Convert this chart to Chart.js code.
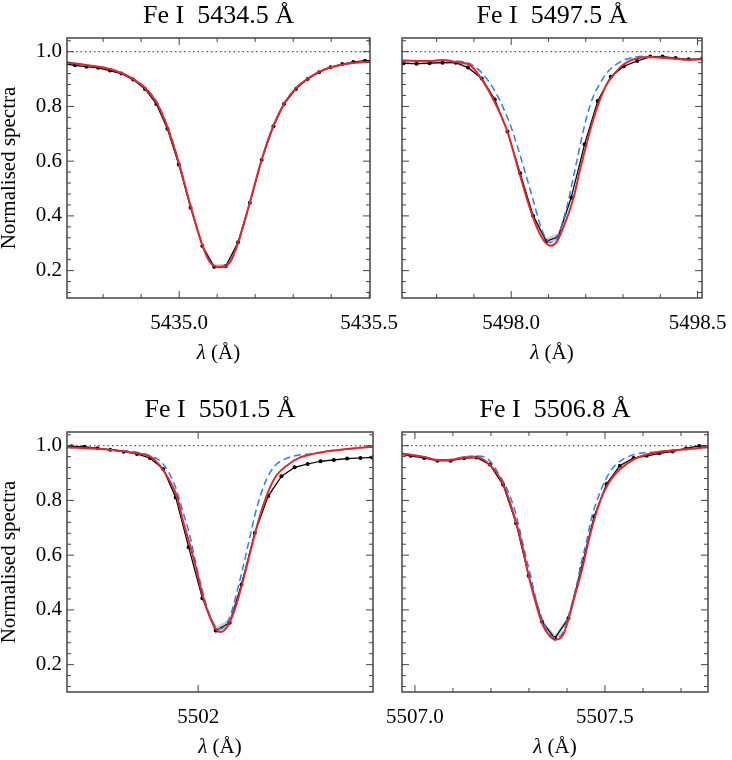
<!DOCTYPE html>
<html>
<head>
<meta charset="utf-8">
<title>Fe I line profiles</title>
<script src="https://cdn.jsdelivr.net/npm/chart.js"></script>
<style>
    body { margin: 0; background: #fff; overflow: hidden; }
    #page { position: relative; width: 732px; height: 760px; overflow: hidden; background: #fff; }
    #page canvas { position: absolute; }
</style>
</head>
<body>
<div id="page">
    <canvas id="p1" width="420" height="380" style="left:0px;top:0px"></canvas>
    <canvas id="p2" width="360" height="380" style="left:380px;top:0px"></canvas>
    <canvas id="p3" width="420" height="380" style="left:0px;top:394px"></canvas>
    <canvas id="p4" width="400" height="380" style="left:340px;top:394px"></canvas>
</div>
<script>
// ===== shared axis data =====
const yTicks = [0.2, 0.4, 0.6, 0.8, 1.0];
const yRange = [0.1, 1.05];

// ===== Fe I 5434.5 =====
const title1 = 'Fe I  5434.5 Å';
const xRange1 = [5434.705, 5435.502];
const xTicks1 = [5435.0, 5435.5];
const obsWave1 = [5434.695, 5434.726, 5434.756, 5434.787, 5434.818, 5434.848, 5434.879, 5434.910, 5434.940, 5434.969,
                  5434.999, 5435.030, 5435.061, 5435.092, 5435.123, 5435.155, 5435.186, 5435.217, 5435.248, 5435.276,
                  5435.307, 5435.338, 5435.368, 5435.398, 5435.429, 5435.458, 5435.489, 5435.520];
const obsFlux1 = [0.957, 0.950, 0.945, 0.941, 0.931, 0.920, 0.898, 0.864, 0.809, 0.718,
                  0.588, 0.430, 0.290, 0.214, 0.217, 0.304, 0.448, 0.604, 0.728, 0.809,
                  0.864, 0.900, 0.925, 0.943, 0.955, 0.962, 0.967, 0.968];
const obsErr1 = [0.003, 0.003, 0.003, 0.003, 0.003, 0.003, 0.003, 0.003, 0.003, 0.004,
                 0.005, 0.006, 0.007, 0.008, 0.008, 0.007, 0.006, 0.005, 0.004, 0.003,
                 0.003, 0.003, 0.003, 0.003, 0.003, 0.003, 0.003, 0.003];
const modWave1 = [5434.704, 5434.756, 5434.818, 5434.848, 5434.879, 5434.910, 5434.940, 5434.969, 5434.999, 5435.030,
                  5435.061, 5435.081, 5435.107, 5435.133, 5435.155, 5435.186, 5435.217, 5435.248, 5435.276, 5435.307,
                  5435.338, 5435.368, 5435.398, 5435.429, 5435.458, 5435.511];
const redFlux1 = [0.961, 0.951, 0.937, 0.922, 0.900, 0.867, 0.815, 0.724, 0.594, 0.436,
                  0.293, 0.231, 0.213, 0.229, 0.302, 0.450, 0.606, 0.730, 0.810, 0.866,
                  0.901, 0.926, 0.942, 0.953, 0.959, 0.964];
const blueFlux1 = [0.961, 0.951, 0.938, 0.923, 0.902, 0.870, 0.819, 0.728, 0.598, 0.438,
                   0.294, 0.231, 0.213, 0.229, 0.300, 0.447, 0.603, 0.728, 0.810, 0.867,
                   0.902, 0.927, 0.943, 0.953, 0.959, 0.964];

// ===== Fe I 5497.5 =====
const title2 = 'Fe I  5497.5 Å';
const xRange2 = [5497.707, 5498.512];
const xTicks2 = [5498.0, 5498.5];
const obsWave2 = [5497.711, 5497.746, 5497.781, 5497.816, 5497.851, 5497.884, 5497.921, 5497.956, 5497.990, 5498.024,
                  5498.059, 5498.094, 5498.126, 5498.161, 5498.197, 5498.232, 5498.267, 5498.302, 5498.338, 5498.373,
                  5498.406, 5498.441, 5498.476, 5498.512];
const obsFlux2 = [0.958, 0.956, 0.958, 0.960, 0.960, 0.942, 0.902, 0.825, 0.708, 0.556,
                  0.400, 0.307, 0.324, 0.467, 0.662, 0.820, 0.908, 0.947, 0.966, 0.982,
                  0.982, 0.977, 0.972, 0.974];
const obsErr2 = [0.005, 0.005, 0.005, 0.005, 0.005, 0.005, 0.004, 0.004, 0.004, 0.005,
                 0.007, 0.013, 0.013, 0.007, 0.005, 0.004, 0.004, 0.004, 0.003, 0.003,
                 0.003, 0.003, 0.003, 0.003];
const redWave2 = [5497.706, 5497.781, 5497.816, 5497.851, 5497.886, 5497.921, 5497.954, 5497.989, 5498.022, 5498.057,
                  5498.075, 5498.089, 5498.105, 5498.121, 5498.140, 5498.168, 5498.184, 5498.202, 5498.219, 5498.237,
                  5498.254, 5498.272, 5498.302, 5498.338, 5498.373, 5498.406, 5498.441, 5498.476, 5498.511];
const redFlux2 = [0.968, 0.966, 0.970, 0.962, 0.954, 0.899, 0.820, 0.711, 0.556, 0.400,
                  0.340, 0.307, 0.291, 0.303, 0.358, 0.470, 0.565, 0.662, 0.747, 0.820,
                  0.875, 0.911, 0.954, 0.976, 0.981, 0.978, 0.974, 0.970, 0.972];
const blueWave2 = [5497.706, 5497.781, 5497.816, 5497.851, 5497.886, 5497.921, 5497.961, 5498.000, 5498.031, 5498.057,
                   5498.083, 5498.105, 5498.123, 5498.149, 5498.176, 5498.202, 5498.219, 5498.237, 5498.254, 5498.276,
                   5498.304, 5498.351, 5498.406, 5498.441, 5498.476, 5498.511];
const blueFlux2 = [0.968, 0.966, 0.969, 0.966, 0.958, 0.923, 0.844, 0.723, 0.589, 0.467,
                   0.346, 0.303, 0.321, 0.431, 0.601, 0.759, 0.832, 0.881, 0.918, 0.948,
                   0.970, 0.983, 0.979, 0.975, 0.971, 0.972];

// ===== Fe I 5501.5 =====
const title3 = 'Fe I  5501.5 Å';
const xRange3 = [5501.655, 5502.460];
const xTicks3 = [5502];
const obsWave3 = [5501.632, 5501.667, 5501.700, 5501.735, 5501.769, 5501.804, 5501.839, 5501.873, 5501.908, 5501.941,
                  5501.975, 5502.011, 5502.046, 5502.083, 5502.114, 5502.149, 5502.184, 5502.219, 5502.254, 5502.288,
                  5502.322, 5502.357, 5502.392, 5502.427, 5502.458];
const obsFlux3 = [0.999, 0.998, 0.996, 0.991, 0.985, 0.978, 0.970, 0.955, 0.915, 0.811,
                  0.629, 0.443, 0.325, 0.353, 0.493, 0.681, 0.815, 0.888, 0.921, 0.933,
                  0.943, 0.948, 0.953, 0.955, 0.957];
const obsErr3 = [0.003, 0.003, 0.003, 0.003, 0.003, 0.003, 0.003, 0.003, 0.004, 0.005,
                 0.006, 0.008, 0.013, 0.013, 0.008, 0.006, 0.005, 0.004, 0.003, 0.003,
                 0.003, 0.003, 0.003, 0.003, 0.003];
const redWave3 = [5501.654, 5501.768, 5501.838, 5501.873, 5501.899, 5501.925, 5501.945, 5501.960, 5501.980, 5501.996,
                  5502.013, 5502.031, 5502.048, 5502.059, 5502.070, 5502.083, 5502.101, 5502.118, 5502.136, 5502.154,
                  5502.171, 5502.189, 5502.206, 5502.233, 5502.268, 5502.303, 5502.355, 5502.408, 5502.461];
const redFlux3 = [0.994, 0.985, 0.972, 0.961, 0.927, 0.872, 0.811, 0.726, 0.629, 0.544,
                  0.446, 0.373, 0.327, 0.319, 0.327, 0.355, 0.422, 0.507, 0.605, 0.702,
                  0.781, 0.848, 0.891, 0.927, 0.957, 0.970, 0.982, 0.990, 0.996];
const blueWave3 = [5501.654, 5501.768, 5501.838, 5501.873, 5501.904, 5501.939, 5501.959, 5501.978, 5501.996, 5502.009,
                   5502.026, 5502.044, 5502.059, 5502.083, 5502.103, 5502.118, 5502.134, 5502.149, 5502.164, 5502.180,
                   5502.202, 5502.228, 5502.259, 5502.303, 5502.355, 5502.408, 5502.461];
const blueFlux3 = [0.994, 0.986, 0.976, 0.963, 0.939, 0.854, 0.763, 0.672, 0.556, 0.483,
                   0.398, 0.343, 0.331, 0.373, 0.471, 0.556, 0.653, 0.745, 0.818, 0.878,
                   0.927, 0.951, 0.964, 0.971, 0.982, 0.990, 0.996];

// ===== Fe I 5506.8 =====
const title4 = 'Fe I  5506.8 Å';
const xRange4 = [5506.966, 5507.771];
const xTicks4 = [5507.0, 5507.5];
const obsWave4 = [5506.960, 5506.989, 5507.024, 5507.059, 5507.094, 5507.130, 5507.162, 5507.197, 5507.232, 5507.266,
                  5507.299, 5507.334, 5507.368, 5507.404, 5507.437, 5507.471, 5507.504, 5507.539, 5507.575, 5507.610,
                  5507.643, 5507.678, 5507.713, 5507.748, 5507.783];
const obsFlux4 = [0.970, 0.963, 0.955, 0.945, 0.945, 0.954, 0.957, 0.931, 0.857, 0.717,
                  0.525, 0.358, 0.296, 0.370, 0.549, 0.741, 0.860, 0.927, 0.955, 0.963,
                  0.972, 0.979, 0.990, 0.999, 1.000];
const obsErr4 = [0.004, 0.004, 0.004, 0.004, 0.004, 0.004, 0.004, 0.004, 0.004, 0.005,
                 0.006, 0.009, 0.013, 0.009, 0.006, 0.006, 0.005, 0.004, 0.003, 0.003,
                 0.003, 0.003, 0.003, 0.003, 0.003];
const redWave4 = [5506.965, 5507.022, 5507.061, 5507.096, 5507.132, 5507.162, 5507.199, 5507.234, 5507.266, 5507.283,
                  5507.299, 5507.316, 5507.335, 5507.353, 5507.370, 5507.389, 5507.403, 5507.421, 5507.440, 5507.456,
                  5507.474, 5507.491, 5507.509, 5507.531, 5507.557, 5507.583, 5507.636, 5507.689, 5507.772];
const redFlux4 = [0.972, 0.960, 0.948, 0.949, 0.957, 0.958, 0.927, 0.853, 0.720, 0.629,
                  0.526, 0.434, 0.349, 0.307, 0.291, 0.307, 0.361, 0.453, 0.550, 0.647,
                  0.741, 0.811, 0.862, 0.903, 0.933, 0.955, 0.976, 0.984, 0.994];
const blueWave4 = [5506.965, 5507.022, 5507.061, 5507.096, 5507.132, 5507.162, 5507.193, 5507.215, 5507.246, 5507.263,
                   5507.276, 5507.289, 5507.303, 5507.316, 5507.333, 5507.351, 5507.368, 5507.390, 5507.408, 5507.426,
                   5507.439, 5507.452, 5507.465, 5507.482, 5507.500, 5507.522, 5507.548, 5507.575, 5507.636, 5507.689,
                   5507.772];
const blueFlux4 = [0.972, 0.960, 0.948, 0.949, 0.960, 0.962, 0.950, 0.909, 0.830, 0.763,
                   0.690, 0.611, 0.532, 0.453, 0.373, 0.319, 0.298, 0.319, 0.398, 0.495,
                   0.580, 0.653, 0.738, 0.811, 0.872, 0.921, 0.951, 0.967, 0.977, 0.984,
                   0.994];

const SERIF = '"Liberation Serif", "DejaVu Serif", serif';

function pts(w, f) { return w.map((x, i) => ({ x: x, y: f[i] })); }

function makePanel(id, p) {
    const upper = p.obsWave.map((x, i) => ({ x: x, y: p.obsFlux[i] + p.obsErr[i] }));
    const lower = p.obsWave.map((x, i) => ({ x: x, y: p.obsFlux[i] - p.obsErr[i] }));

    // frame, inward ticks on all sides and the x-axis label
    const frame = {
        id: 'frame',
        afterDraw(chart) {
            const { ctx, chartArea: a, scales: { x, y } } = chart;
            ctx.save();
            ctx.strokeStyle = '#444';
            ctx.lineWidth = 1;
            ctx.beginPath();
            for (let i = Math.ceil(y.min / 0.04 - 1e-6); i * 0.04 <= y.max + 1e-9; i++) {
                const v = i * 0.04, py = y.getPixelForValue(v);
                const len = yTicks.some(t => Math.abs(t - v) < 1e-6) ? 7 : 4;
                ctx.moveTo(a.left, py); ctx.lineTo(a.left + len, py);
                ctx.moveTo(a.right, py); ctx.lineTo(a.right - len, py);
            }
            const xs = p.xTicks.map(v => ({ v: v, len: 7 }));
            if (p.xMinor) {
                for (let i = Math.ceil(x.min / p.xMinor); i * p.xMinor <= x.max; i++) {
                    const v = i * p.xMinor;
                    if (!p.xTicks.some(t => Math.abs(t - v) < 1e-6)) xs.push({ v: v, len: 4 });
                }
            }
            xs.forEach(t => {
                const px = x.getPixelForValue(t.v);
                ctx.moveTo(px, a.bottom); ctx.lineTo(px, a.bottom - t.len);
                ctx.moveTo(px, a.top); ctx.lineTo(px, a.top + t.len);
            });
            ctx.stroke();
            ctx.lineWidth = 1.5;
            ctx.strokeRect(a.left, a.top, a.right - a.left, a.bottom - a.top);

            // x axis label: italic lambda + upright unit
            ctx.fillStyle = '#000';
            ctx.textBaseline = 'alphabetic';
            ctx.font = 'italic 21px ' + SERIF;
            const w1 = ctx.measureText('λ').width;
            ctx.font = '21px ' + SERIF;
            const w2 = ctx.measureText(' (Å)').width;
            const x0 = (a.left + a.right) / 2 - (w1 + w2) / 2, yb = a.bottom + 61;
            ctx.font = 'italic 21px ' + SERIF;
            ctx.fillText('λ', x0, yb);
            ctx.font = '21px ' + SERIF;
            ctx.fillText(' (Å)', x0 + w1, yb);
            ctx.restore();
        }
    };

    new Chart(document.getElementById(id), {
        type: 'line',
        data: {
            datasets: [
                { data: pts(p.redWave, p.redFlux), borderColor: '#e4262b', borderWidth: 2,
                  pointRadius: 0, cubicInterpolationMode: 'monotone', fill: false },
                { data: pts(p.blueWave, p.blueFlux), borderColor: '#2a7df2', borderWidth: 1.5, borderDash: [7, 4],
                  pointRadius: 0, cubicInterpolationMode: 'monotone', fill: false },
                { data: pts(p.obsWave, p.obsFlux), borderColor: '#000', borderWidth: 1.2, tension: 0,
                  pointRadius: 2, pointBackgroundColor: '#000', pointBorderWidth: 0, fill: false },
                { data: upper, borderColor: 'rgba(0,0,0,0)', borderWidth: 0, pointRadius: 0,
                  fill: '+1', backgroundColor: 'rgba(165,165,165,0.55)' },
                { data: lower, borderColor: 'rgba(0,0,0,0)', borderWidth: 0, pointRadius: 0, fill: false },
                { data: [{ x: p.xRange[0], y: 1 }, { x: p.xRange[1], y: 1 }], borderColor: '#555',
                  borderWidth: 1.3, borderDash: [1.5, 3], pointRadius: 0, fill: false }
            ]
        },
        options: {
            responsive: false,
            animation: false,
            events: [],
            layout: { padding: { left: 0, right: p.padRight, top: 0, bottom: 0 } },
            plugins: {
                legend: { display: false },
                tooltip: { enabled: false },
                title: {
                    display: true, text: p.title, color: '#000', fullSize: false,
                    font: { family: SERIF, size: 26, weight: 'normal', lineHeight: 1 },
                    padding: { top: 3.2, bottom: 8.8 }
                }
            },
            scales: {
                x: {
                    type: 'linear', min: p.xRange[0], max: p.xRange[1],
                    grid: { display: false, drawTicks: false }, border: { display: false },
                    afterBuildTicks: ax => { ax.ticks = p.xTicks.map(v => ({ value: v })); },
                    afterFit: ax => { ax.height = 82; },
                    ticks: {
                        color: '#000', font: { family: SERIF, size: 21 }, padding: 13,
                        maxRotation: 0, autoSkip: false,
                        callback: v => v.toFixed(p.xDigits)
                    }
                },
                y: {
                    type: 'linear', min: yRange[0], max: yRange[1],
                    grid: { display: false, drawTicks: false }, border: { display: false },
                    afterBuildTicks: ax => { ax.ticks = yTicks.map(v => ({ value: v })); },
                    afterFit: ax => { ax.width = p.yWidth; },
                    ticks: {
                        display: p.yLabels, color: '#000', font: { family: SERIF, size: 21 }, padding: 5,
                        callback: v => v.toFixed(1)
                    },
                    title: {
                        display: p.yLabels, text: 'Normalised spectra', color: '#000',
                        font: { family: SERIF, size: 21, lineHeight: 0.9 }, padding: 0
                    }
                }
            }
        },
        plugins: [frame]
    });
}

makePanel('p1', { title: title1, xRange: xRange1, xTicks: xTicks1, xMinor: 0.1, xDigits: 1,
    obsWave: obsWave1, obsFlux: obsFlux1, obsErr: obsErr1,
    redWave: modWave1, redFlux: redFlux1, blueWave: modWave1, blueFlux: blueFlux1,
    yLabels: true, yWidth: 67, padRight: 50 });
makePanel('p2', { title: title2, xRange: xRange2, xTicks: xTicks2, xMinor: 0.1, xDigits: 1,
    obsWave: obsWave2, obsFlux: obsFlux2, obsErr: obsErr2,
    redWave: redWave2, redFlux: redFlux2, blueWave: blueWave2, blueFlux: blueFlux2,
    yLabels: false, yWidth: 22, padRight: 32 });
makePanel('p3', { title: title3, xRange: xRange3, xTicks: xTicks3, xMinor: 0, xDigits: 0,
    obsWave: obsWave3, obsFlux: obsFlux3, obsErr: obsErr3,
    redWave: redWave3, redFlux: redFlux3, blueWave: blueWave3, blueFlux: blueFlux3,
    yLabels: true, yWidth: 67, padRight: 47 });
makePanel('p4', { title: title4, xRange: xRange4, xTicks: xTicks4, xMinor: 0.1, xDigits: 1,
    obsWave: obsWave4, obsFlux: obsFlux4, obsErr: obsErr4,
    redWave: redWave4, redFlux: redFlux4, blueWave: blueWave4, blueFlux: blueFlux4,
    yLabels: false, yWidth: 62, padRight: 32 });
</script>
</body>
</html>
